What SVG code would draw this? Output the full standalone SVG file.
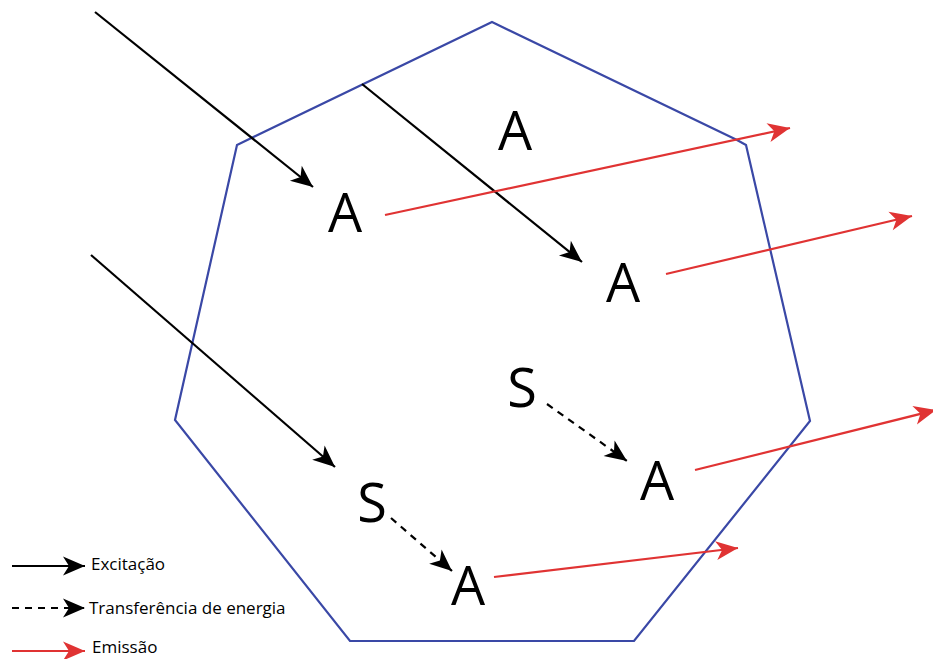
<svg xmlns="http://www.w3.org/2000/svg" width="933" height="659" viewBox="0 0 933 659">
<style>
.lbl{font-family:"Open Sans","Noto Sans","Liberation Sans",sans-serif;font-size:54px;fill:#000;text-anchor:middle}
.leg{font-family:"Open Sans","Noto Sans","Liberation Sans",sans-serif;font-size:17px;fill:#000}
.k{stroke:#000;stroke-width:2.2;fill:none}
.d{stroke:#000;stroke-width:2.2;fill:none;stroke-dasharray:7 6}
.r{stroke:#e03333;stroke-width:2.2;fill:none}
</style>
<defs>
<marker id="hk" markerUnits="userSpaceOnUse" viewBox="-23 -11 25 22" markerWidth="25" markerHeight="22" refX="0" refY="0" orient="auto">
<path d="M0,0 L-22,-9.5 L-16,0 L-22,9.5 Z" fill="#000"/>
</marker>
<marker id="hr" markerUnits="userSpaceOnUse" viewBox="-23 -11 25 22" markerWidth="25" markerHeight="22" refX="0" refY="0" orient="auto">
<path d="M0,0 L-22,-9.5 L-16,0 L-22,9.5 Z" fill="#e03333"/>
</marker>
</defs>
<rect width="933" height="659" fill="#fff"/>
<g id="crystal">
<polygon points="492,22 737,140 746,145 810,421 634,641 350,641 175,420 237,145" fill="none" stroke="#3a48a6" stroke-width="2.2"/>
</g>
<g id="connectors">
<line class="k" x1="95" y1="12" x2="313" y2="187" marker-end="url(#hk)"/>
<line class="k" x1="362" y1="84" x2="582" y2="262" marker-end="url(#hk)"/>
<line class="k" x1="91" y1="255" x2="335" y2="467" marker-end="url(#hk)"/>
<line class="d" x1="547" y1="404" x2="627" y2="461" marker-end="url(#hk)"/>
<line class="d" x1="391" y1="518" x2="452" y2="571" marker-end="url(#hk)"/>
<line class="r" x1="385" y1="215" x2="790" y2="128" marker-end="url(#hr)"/>
<line class="r" x1="666" y1="274" x2="912" y2="216" marker-end="url(#hr)"/>
<line class="r" x1="695" y1="470" x2="936" y2="410" marker-end="url(#hr)"/>
<line class="r" x1="494" y1="577" x2="738" y2="548" marker-end="url(#hr)"/>
</g>
<g id="A1"><text class="lbl" x="345" y="232">A</text></g>
<g id="A2"><text class="lbl" x="515" y="150">A</text></g>
<g id="A3"><text class="lbl" x="623" y="302">A</text></g>
<g id="S1"><text class="lbl" x="522" y="407">S</text></g>
<g id="A4"><text class="lbl" x="657" y="500">A</text></g>
<g id="S2"><text class="lbl" x="372" y="522">S</text></g>
<g id="A5"><text class="lbl" x="468" y="605">A</text></g>
<g id="legend">
<line class="k" x1="12" y1="566" x2="85" y2="566" marker-end="url(#hk)"/>
<text class="leg" x="91" y="570">Excitação</text>
<line class="d" x1="12" y1="608" x2="85" y2="608" marker-end="url(#hk)"/>
<text class="leg" x="89" y="614">Transferência de energia</text>
<line class="r" x1="12" y1="651" x2="85" y2="651" marker-end="url(#hr)"/>
<text class="leg" x="92" y="653">Emissão</text>
</g>
</svg>
